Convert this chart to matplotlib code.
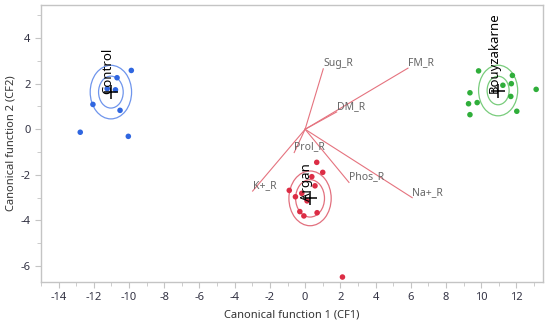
import matplotlib.pyplot as plt
from matplotlib.patches import Ellipse
from matplotlib.ticker import MultipleLocator

# canonical scores per group
control_x = [-12.77, -12.05, -10.68, -10.77, -9.87, -10.51, -10.04, -11.24]
control_y = [-0.13, 1.09, 2.26, 1.73, 2.58, 0.83, -0.31, 1.78]

bouy_x = [9.85, 11.77, 11.71, 11.23, 11.68, 9.36, 9.28, 9.77, 9.36, 12.02, 13.12]
bouy_y = [2.56, 2.36, 2.00, 1.93, 1.44, 1.60, 1.12, 1.17, 0.64, 0.79, 1.75]

argan_x = [0.66, 1.00, 0.38, 0.56, -0.90, -0.55, -0.19, 0.11, -0.30, -0.07, 0.68, 2.12]
argan_y = [-1.45, -1.89, -2.08, -2.48, -2.68, -2.96, -2.81, -3.14, -3.61, -3.80, -3.66, -6.48]

# group means and circle diameters (inner, outer)
groups = ['Control', 'Bouyzakarne', 'Argan']
mean_x = [-11.03, 10.96, 0.28]
mean_y = [1.63, 1.70, -3.03]
inner_d = [1.40, 1.25, 1.64]
outer_d = [2.35, 2.22, 2.40]

# biplot rays
ray_names = ['Sug_R', 'FM_R', 'DM_R', 'Prol_R', 'K+_R', 'Phos_R', 'Na+_R']
ray_x = [1.03, 5.84, 1.79, -0.62, -2.98, 2.49, 6.08]
ray_y = [2.65, 2.68, 0.76, -1.02, -2.71, -2.33, -3.00]

pt_colors = ['#2f66e0', '#2fae3a', '#dc2d45']
ring_colors = ['#6f95ec', '#79cc7c', '#e2707e']
ray_color = '#e5737f'
grid_grey = '#c4c4c4'

plt.rcParams['font.family'] = ['Noto Sans', 'DejaVu Sans']
plt.rcParams['axes.unicode_minus'] = False

fig = plt.figure(figsize=(5.5, 3.33), dpi=100)
ax = fig.add_axes([0.0745, 0.153, 0.9125, 0.832])

# rays from the origin
for name, rx, ry in zip(ray_names, ray_x, ray_y):
    ax.plot([0, rx], [0, ry], color=ray_color, lw=0.8, zorder=2)
    ax.text(rx, ry, name, color='#666666', fontsize=7.5, ha='left', va='bottom', zorder=4)

sets = [(control_x, control_y), (bouy_x, bouy_y), (argan_x, argan_y)]
for i, (xs, ys) in enumerate(sets):
    ax.scatter(xs, ys, s=16, color=pt_colors[i], edgecolors='none', zorder=3)
    for d in (inner_d[i], outer_d[i]):
        ax.add_patch(Ellipse((mean_x[i], mean_y[i]), d, d, fill=False,
                             edgecolor=ring_colors[i], lw=0.9, zorder=2))
    ax.plot(mean_x[i], mean_y[i], marker='+', color='black', ms=10, mew=1.1, zorder=5)
    ax.text(mean_x[i], mean_y[i] - 0.1, groups[i], rotation=90, rotation_mode='anchor',
            ha='left', va='baseline', fontsize=9.5, color='black', zorder=6)

ax.set_xlim(-15, 13.5)
ax.set_ylim(-6.7, 5.45)
ax.xaxis.set_major_locator(MultipleLocator(2))
ax.xaxis.set_minor_locator(MultipleLocator(1))
ax.yaxis.set_major_locator(MultipleLocator(2))
ax.yaxis.set_minor_locator(MultipleLocator(1))

for sp in ax.spines.values():
    sp.set_color(grid_grey)
    sp.set_linewidth(1.0)
ax.tick_params(which='major', length=4, color=grid_grey, labelsize=8, labelcolor='#333344')
ax.tick_params(which='minor', length=3, color=grid_grey)

ax.set_xlabel('Canonical function 1 (CF1)', fontsize=8, color='#333333', labelpad=4)
ax.set_ylabel('Canonical function 2 (CF2)', fontsize=8, color='#333333', labelpad=3)

plt.savefig('out.png', dpi=100)
